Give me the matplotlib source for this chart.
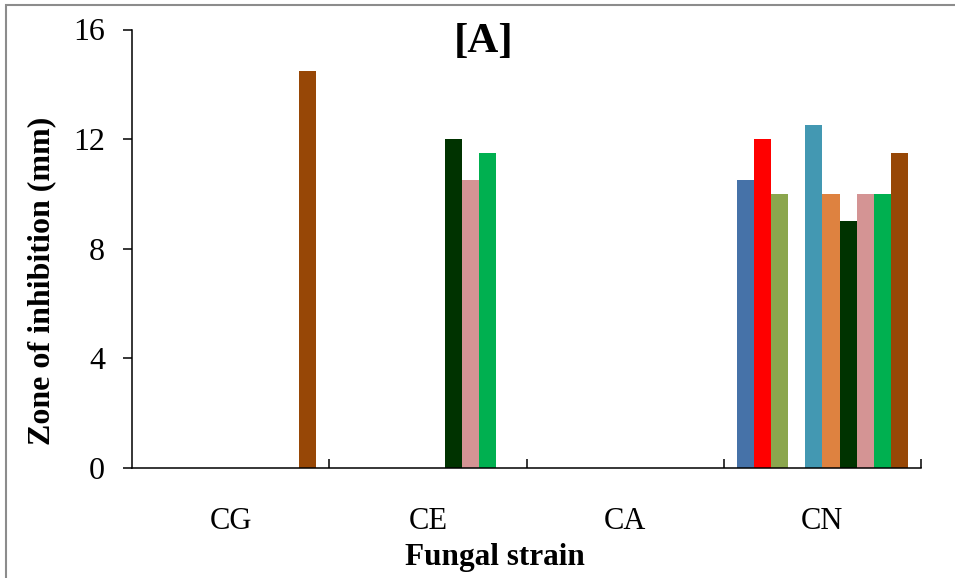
import matplotlib
matplotlib.use("Agg")
import matplotlib.pyplot as plt
from matplotlib.patches import Rectangle
import numpy as np

categories = ["CG", "CE", "CA", "CN"]
series_names = ["S1", "S2", "S3", "S4", "S5", "S6", "S7", "S8", "S9", "S10"]
values = [
    [0, 0, 0, 10.5],    # S1 blue
    [0, 0, 0, 12.0],    # S2 red
    [0, 0, 0, 10.0],    # S3 olive
    [0, 0, 0, 0],       # S4 (none)
    [0, 0, 0, 12.5],    # S5 teal
    [0, 0, 0, 10.0],    # S6 orange
    [0, 12.0, 0, 9.0],  # S7 dark green
    [0, 10.5, 0, 10.0], # S8 pink
    [0, 11.5, 0, 10.0], # S9 green
    [14.5, 0, 0, 11.5], # S10 brown
]
colors = ["#4672A8", "#FF0000", "#8BA64D", "#8064A2", "#4398B2",
          "#DE8240", "#003300", "#D49494", "#00B050", "#974706"]

plt.rcParams['font.family'] = ['Liberation Serif', 'DejaVu Serif']

W, H = 955, 578
fig = plt.figure(figsize=(W/100, H/100), dpi=100)
ax = fig.add_axes([132/W, 1-468/H, (921-132)/W, (468-29.5)/H])

n = len(series_names)
w = 1/11.5
x = np.arange(len(categories))
for i, (name, vals) in enumerate(zip(series_names, values)):
    ax.bar(x + (i - (n-1)/2)*w, vals, width=w, color=colors[i], label=name, linewidth=0)

ax.set_xlim(-0.5, 3.5)
ax.set_ylim(0, 16)
ax.set_yticks([0, 4, 8, 12, 16])
ax.tick_params(axis='y', direction='out', length=6.5, width=1.1, labelsize=23, pad=13)
ax.set_xticks(x)
ax.set_xticklabels(categories)
ax.tick_params(axis='x', which='major', length=0, labelsize=22, pad=28)
ax.set_xticks([0.5, 1.5, 2.5, 3.5], minor=True)
ax.tick_params(axis='x', which='minor', direction='in', length=6.5, width=1.1)
for s in ['top', 'right']:
    ax.spines[s].set_visible(False)
for s in ['left', 'bottom']:
    ax.spines[s].set_linewidth(1.1)

fig.text(42/W, 1-281/H, "Zone of inhibition (mm)", rotation=90, ha='center', va='center',
         fontsize=23, fontweight='bold')
fig.text(495/W, 1-558/H, "Fungal strain", ha='center', va='center',
         fontsize=22.5, fontweight='bold')
fig.text(484/W, 1-42/H, "[A]", ha='center', va='center',
         fontsize=31, fontweight='bold')

fig.patches.append(Rectangle((6/W, -0.1), 1.2, 1 - 5/H + 0.1, transform=fig.transFigure,
                             fill=False, edgecolor='#8C8C8C', linewidth=1.5))

fig.savefig("out.png", dpi=100)
